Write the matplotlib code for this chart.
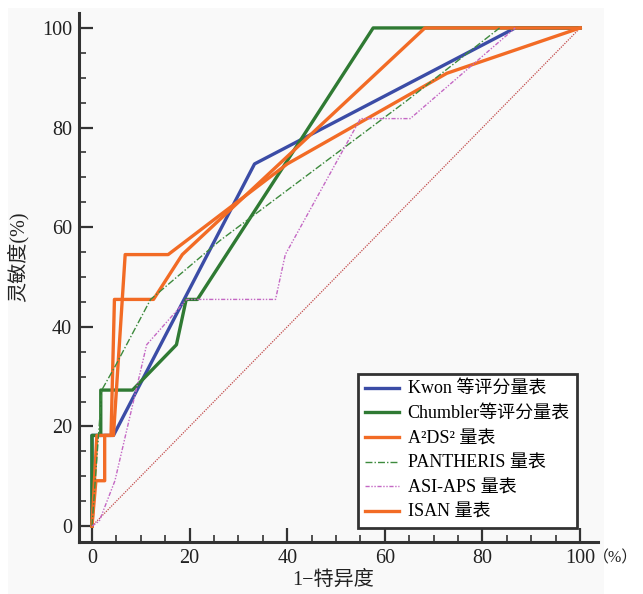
import matplotlib
matplotlib.use("Agg")
import matplotlib.pyplot as plt
from matplotlib.patches import Rectangle
from matplotlib.ticker import MultipleLocator

# ---- data (1-specificity %, sensitivity %) ----
kwon_x = [0, 0, 4.4, 33.3, 86.7, 100]
kwon_y = [0, 18.2, 18.2, 72.7, 100, 100]

chum_x = [0, 0, 1.8, 1.8, 8.3, 17.3, 19.3, 21.6, 57.6, 100]
chum_y = [0, 18.2, 18.2, 27.3, 27.3, 36.4, 45.5, 45.5, 100, 100]

a2ds2_x = [0, 0.8, 2.6, 2.6, 3.9, 4.6, 12.6, 18.5, 68.2, 100]
a2ds2_y = [0, 9.1, 9.1, 18.2, 18.2, 45.5, 45.5, 54.5, 100, 100]

pan_x = [0, 2.0, 4.7, 12.0, 18.0, 26.2, 64.5, 83.5]
pan_y = [0, 27.3, 32.0, 45.5, 50.5, 57.3, 85.4, 100]

asi_x = [0, 1.5, 4.7, 11.2, 19.4, 37.6, 39.6, 55.0, 65.2, 86.7]
asi_y = [0, 1.0, 9.1, 36.4, 45.5, 45.5, 54.5, 81.8, 81.8, 100]

isan_x = [0, 1.0, 4.4, 6.8, 15.6, 40.0, 72.7, 100]
isan_y = [0, 18.2, 18.2, 54.5, 54.5, 72.7, 90.9, 100]

ref_x = [0, 100]
ref_y = [0, 100]

labels = ["Kwon 等评分量表", "Chumbler等评分量表", "A²DS² 量表",
          "PANTHERIS 量表", "ASI-APS 量表", "ISAN 量表"]
xticks = [0, 20, 40, 60, 80, 100]
yticks = [0, 20, 40, 60, 80, 100]

FAM = ["Liberation Serif", "Noto Sans CJK SC"]
plt.rcParams["font.family"] = FAM

fig = plt.figure(figsize=(6.43, 5.94), dpi=100)
fig.patches.append(Rectangle((0.012, 0.0), 0.927, 0.987, transform=fig.transFigure,
                             facecolor="#f9f9f9", edgecolor="none", zorder=-10))
ax = fig.add_axes([79/643, (594-542)/594, (597.7-79)/643, (542-13)/594])
ax.set_facecolor("none")

blue = "#3b4ca6"
green = "#2f7a33"
orange = "#f26b25"
dgreen = "#3d8a3d"
magenta = "#c468c4"
red = "#c24a4a"

ax.plot(ref_x, ref_y, color=red, lw=0.9, ls=(0, (1, 1)), zorder=1)
lk, = ax.plot(kwon_x, kwon_y, color=blue, lw=2.4, zorder=3, label=labels[0])
lc, = ax.plot(chum_x, chum_y, color=green, lw=2.4, zorder=3, label=labels[1])
la, = ax.plot(a2ds2_x, a2ds2_y, color=orange, lw=2.4, zorder=4, label=labels[2])
lp, = ax.plot(pan_x, pan_y, color=dgreen, lw=1.0, ls=(0, (5, 1.5, 1, 1.5)), zorder=5, label=labels[3])
ls_, = ax.plot(asi_x, asi_y, color=magenta, lw=1.0, ls=(0, (3, 1.2, 1, 1.2, 1, 1.2)), zorder=5, label=labels[4])
li, = ax.plot(isan_x, isan_y, color=orange, lw=2.4, zorder=4, label=labels[5])

ax.set_xlim(-2.66, 103.6)
ax.set_ylim(-3.2, 103)

for s in ["top", "right"]:
    ax.spines[s].set_visible(False)
for s in ["left", "bottom"]:
    ax.spines[s].set_linewidth(2.2)
    ax.spines[s].set_color("#333333")

ax.set_xticks(xticks)
ax.set_yticks(yticks)
ax.xaxis.set_minor_locator(MultipleLocator(5))
ax.yaxis.set_minor_locator(MultipleLocator(5))
ax.tick_params(which="major", direction="in", length=10, width=1.6, color="#333333",
               labelsize=14.5, labelcolor="#222222")
ax.tick_params(which="minor", direction="in", length=5, width=1.2, color="#333333")
ax.tick_params(axis="x", which="major", pad=5)
ax.tick_params(axis="y", which="major", pad=5)
for lab in ax.get_xticklabels() + ax.get_yticklabels():
    lab.set_family(FAM)

leg = ax.legend(handles=[lk, lc, la, lp, ls_, li], loc="lower right",
                bbox_to_anchor=(0.96, 0.026), borderaxespad=0, fancybox=False,
                framealpha=1, facecolor="white", edgecolor="#333333",
                prop={"family": FAM, "size": 13}, handlelength=1.9,
                handletextpad=0.45, labelspacing=0.42, borderpad=0.4)
leg.get_frame().set_linewidth(2)
leg.set_zorder(10)

fig.text(333/643, 1-580/594, "1−特异度", ha="center", va="center", fontsize=14.5,
         family=FAM, color="#222222")
fig.text(18/643, 1-257/594, "灵敏度(%)", ha="center", va="center", fontsize=14.5,
         rotation=90, family=FAM, color="#222222")
fig.text(638/643, 1-558/594, "（%）", ha="right", va="center", fontsize=11.5,
         family=FAM, color="#222222")

fig.savefig("out.png", dpi=100)
